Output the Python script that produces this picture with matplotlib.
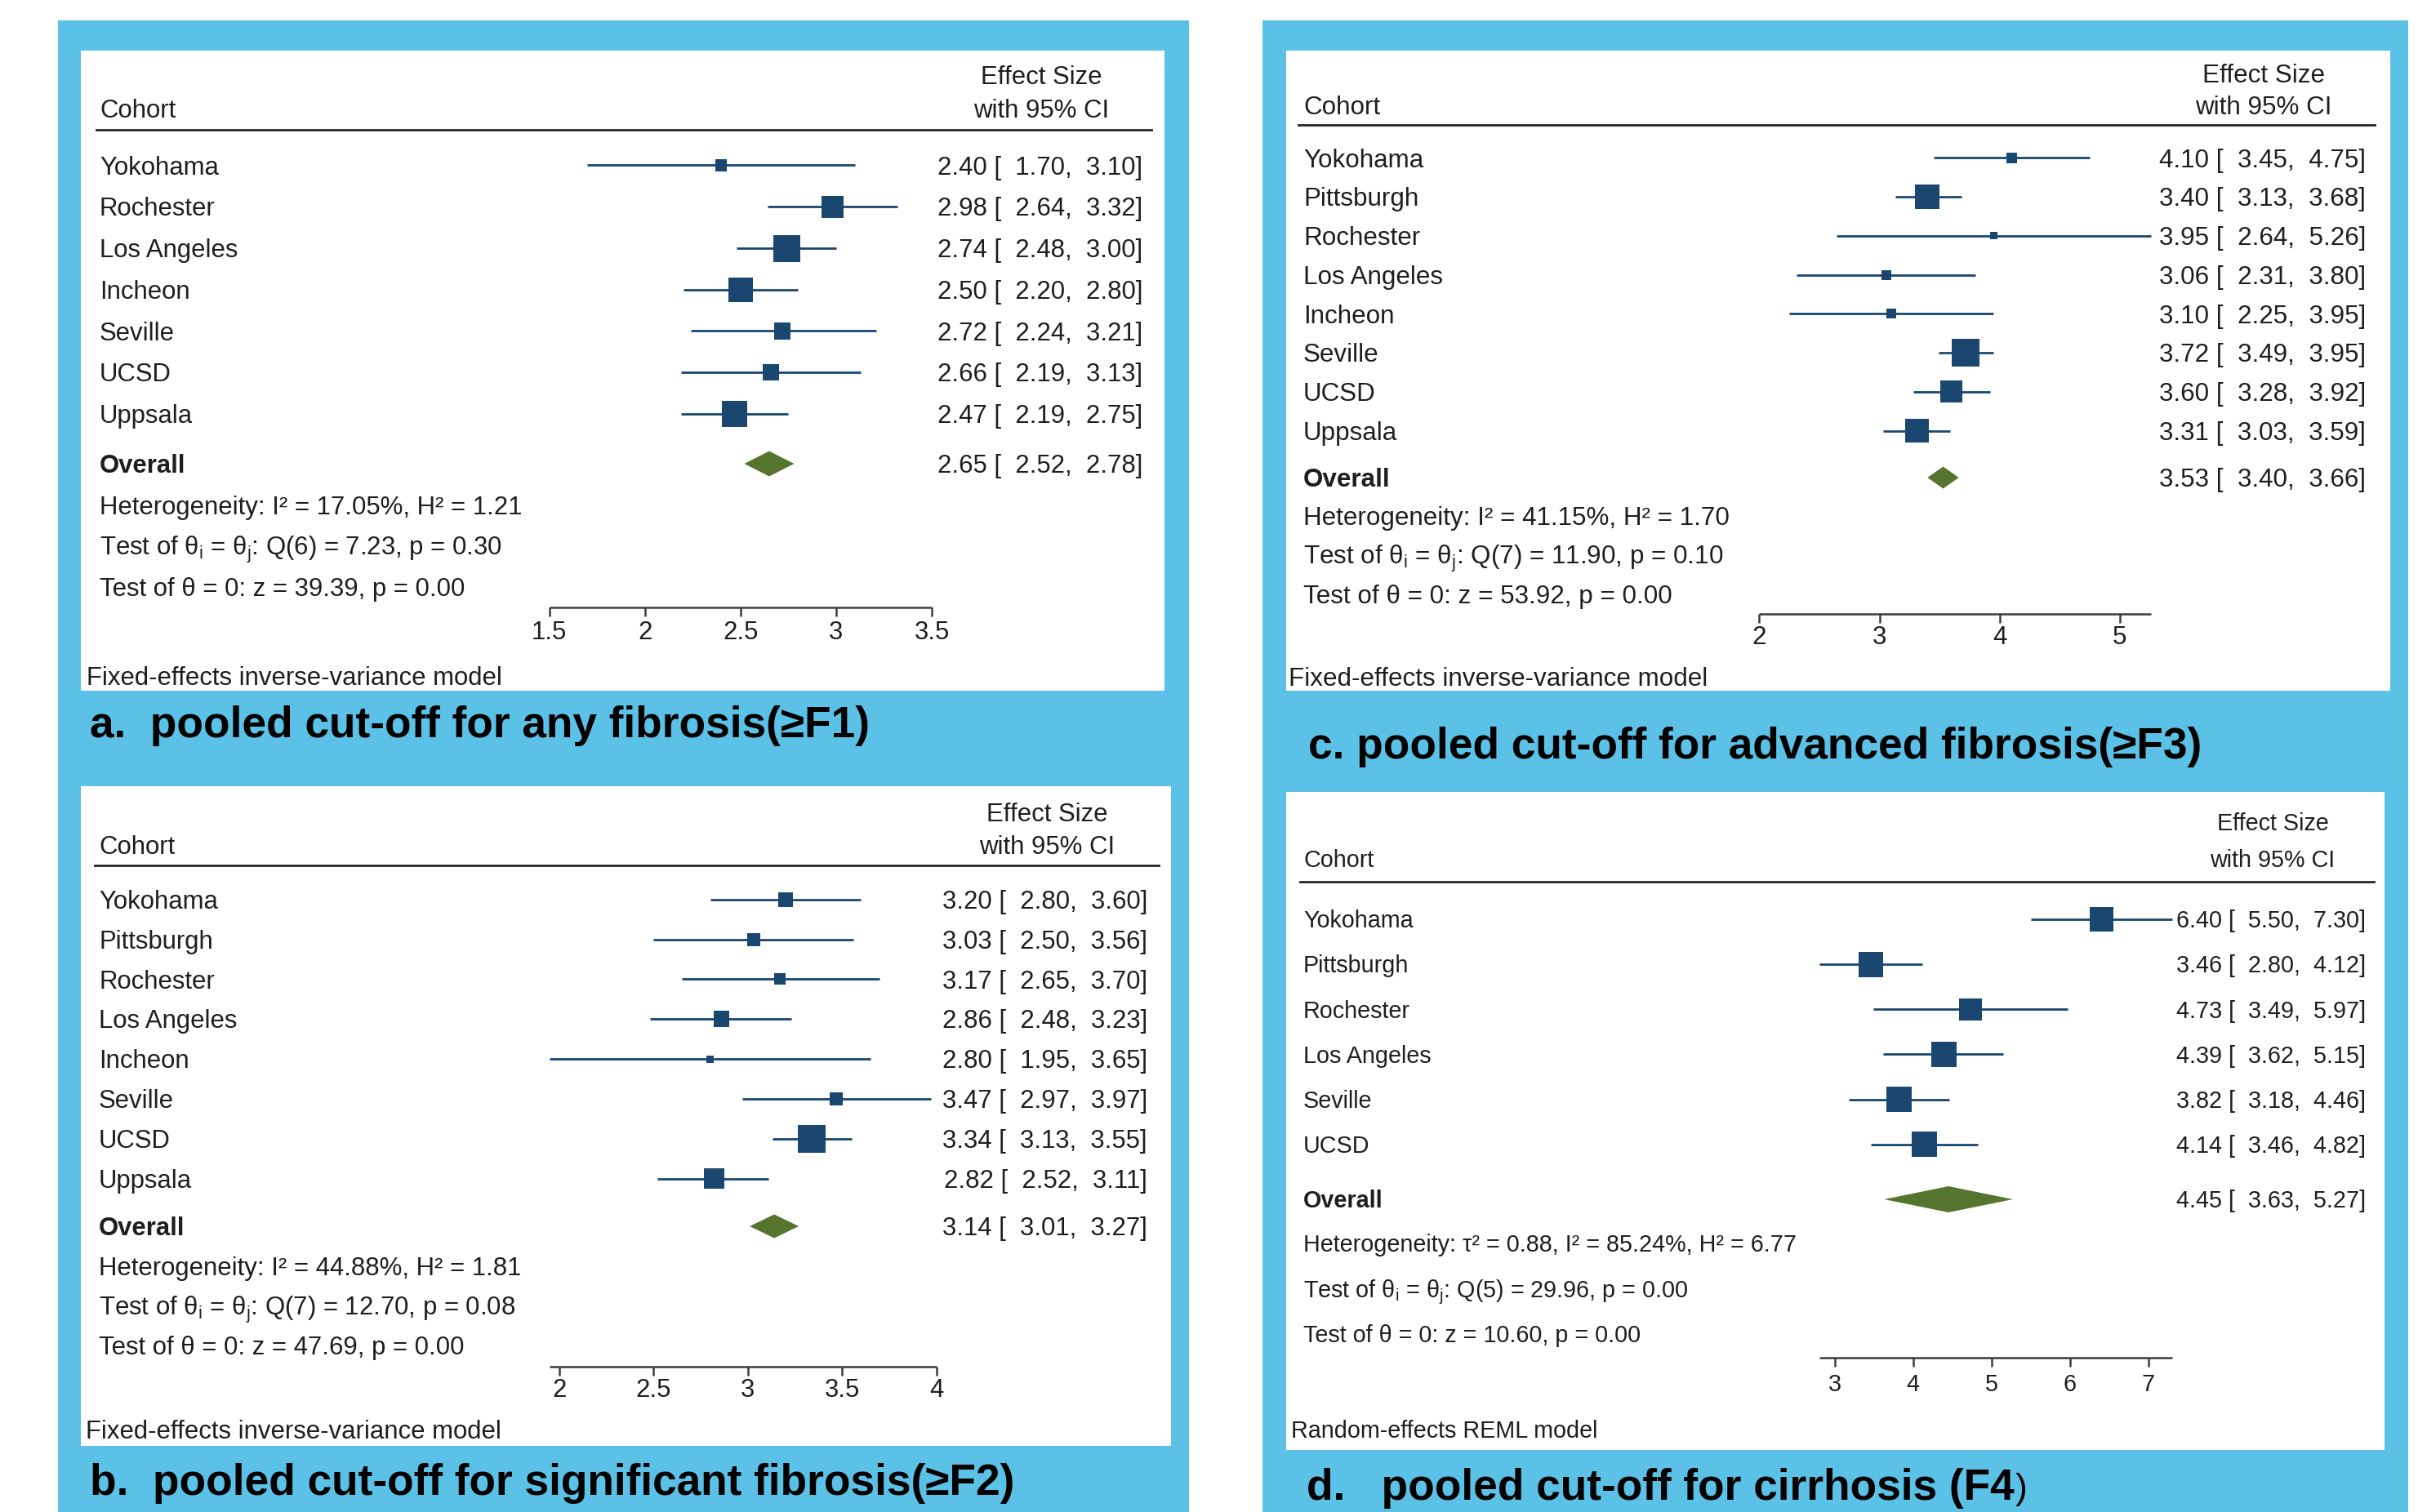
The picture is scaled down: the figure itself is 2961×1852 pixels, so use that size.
import matplotlib.pyplot as plt
from matplotlib.patches import Rectangle
from matplotlib.lines import Line2D
import numpy as np

plt.rcParams["font.family"] = ["Liberation Sans", "DejaVu Sans"]
plt.rcParams["mathtext.fontset"] = "custom"
plt.rcParams["mathtext.rm"] = "Liberation Sans"
plt.rcParams["mathtext.it"] = "Liberation Sans:italic"

W, H = 2961, 1852
NAVY = "#1A476F"
GREEN = "#55752F"
SKY = "#5BC1E7"
INK = "#1E1E1E"

# ---- data ----
# a. any fibrosis (>=F1)
a_cohort = ["Yokohama", "Rochester", "Los Angeles", "Incheon", "Seville", "UCSD", "Uppsala"]
a_est = [2.40, 2.98, 2.74, 2.50, 2.72, 2.66, 2.47]
a_lo = [1.70, 2.64, 2.48, 2.20, 2.24, 2.19, 2.19]
a_hi = [3.10, 3.32, 3.00, 2.80, 3.21, 3.13, 2.75]
a_wt = [4.2, 15.6, 23.3, 19.3, 8.6, 8.6, 20.6]
a_all = (2.65, 2.52, 2.78)
a_ticks = [1.5, 2, 2.5, 3, 3.5]
a_stats = ["Heterogeneity: I² = 17.05%, H² = 1.21",
           r"Test of θ$_{\mathrm{i}}$ = θ$_{\mathrm{j}}$: Q(6) = 7.23, p = 0.30",
           "Test of θ = 0: z = 39.39, p = 0.00"]

# b. significant fibrosis (>=F2)
b_cohort = ["Yokohama", "Pittsburgh", "Rochester", "Los Angeles", "Incheon", "Seville", "UCSD", "Uppsala"]
b_est = [3.20, 3.03, 3.17, 2.86, 2.80, 3.47, 3.34, 2.82]
b_lo = [2.80, 2.50, 2.65, 2.48, 1.95, 2.97, 3.13, 2.52]
b_hi = [3.60, 3.56, 3.70, 3.23, 3.65, 3.97, 3.55, 3.11]
b_wt = [9.8, 7.8, 6.0, 12.1, 2.5, 7.8, 35.1, 19.0]
b_all = (3.14, 3.01, 3.27)
b_ticks = [2, 2.5, 3, 3.5, 4]
b_stats = ["Heterogeneity: I² = 44.88%, H² = 1.81",
           r"Test of θ$_{\mathrm{i}}$ = θ$_{\mathrm{j}}$: Q(7) = 12.70, p = 0.08",
           "Test of θ = 0: z = 47.69, p = 0.00"]

# c. advanced fibrosis (>=F3)
c_cohort = ["Yokohama", "Pittsburgh", "Rochester", "Los Angeles", "Incheon", "Seville", "UCSD", "Uppsala"]
c_est = [4.10, 3.40, 3.95, 3.06, 3.10, 3.72, 3.60, 3.31]
c_lo = [3.45, 3.13, 2.64, 2.31, 2.25, 3.49, 3.28, 3.03]
c_hi = [4.75, 3.68, 5.26, 3.80, 3.95, 3.95, 3.92, 3.59]
c_wt = [4.1, 21.6, 1.9, 3.5, 3.5, 27.8, 17.5, 20.2]
c_all = (3.53, 3.40, 3.66)
c_ticks = [2, 3, 4, 5]
c_stats = ["Heterogeneity: I² = 41.15%, H² = 1.70",
           r"Test of θ$_{\mathrm{i}}$ = θ$_{\mathrm{j}}$: Q(7) = 11.90, p = 0.10",
           "Test of θ = 0: z = 53.92, p = 0.00"]

# d. cirrhosis (F4)
d_cohort = ["Yokohama", "Pittsburgh", "Rochester", "Los Angeles", "Seville", "UCSD"]
d_est = [6.40, 3.46, 4.73, 4.39, 3.82, 4.14]
d_lo = [5.50, 2.80, 3.49, 3.62, 3.18, 3.46]
d_hi = [7.30, 4.12, 5.97, 5.15, 4.46, 4.82]
d_wt = [16.1, 17.7, 13.7, 17.1, 17.8, 17.6]
d_all = (4.45, 3.63, 5.27)
d_ticks = [3, 4, 5, 6, 7]
d_stats = ["Heterogeneity: τ² = 0.88, I² = 85.24%, H² = 6.77",
           r"Test of θ$_{\mathrm{i}}$ = θ$_{\mathrm{j}}$: Q(5) = 29.96, p = 0.00",
           "Test of θ = 0: z = 10.60, p = 0.00"]

fig = plt.figure(figsize=(W / 100, H / 100), dpi=100)


def fx(px):
    return px / W


def fy(py):
    return 1 - py / H


def rect(x0, y0, x1, y1, color):
    fig.add_artist(Rectangle((fx(x0), fy(y1)), fx(x1) - fx(x0), fy(y0) - fy(y1),
                             transform=fig.transFigure, color=color, lw=0, zorder=0))


def txt(x, y, s, fs, **kw):
    # y is the visual centre of the cap height, in pixels
    base = y + 0.358 * fs * 100 / 72
    return fig.text(fx(x), fy(base), s, fontsize=fs, va="baseline", color=kw.pop("color", INK), **kw)


# sky blue frames
rect(71, 25, 1456, H, SKY)
rect(1546, 25, 2949, H, SKY)


def forest(box, p0, unit, lay, cohort, est, lo, hi, wt, overall, ticks, stats, model, fs, sq_max, dia_h):
    x0, y0, x1, y1 = box
    rect(x0, y0, x1, y1, "white")
    est, lo, hi, wt = map(np.asarray, (est, lo, hi, wt))

    ax = fig.add_axes([fx(x0), fy(y1), fx(x1) - fx(x0), fy(y0) - fy(y1)])
    ax.set_xlim(ticks[0] + (x0 - p0) / unit, ticks[0] + (x1 - p0) / unit)
    ax.set_ylim(y1, y0)
    ax.axis("off")

    cx = lay["cx"]
    txt(cx, lay["h2"], "Cohort", fs)
    txt(lay["hx"], lay["h1"], "Effect Size", fs, ha="center")
    txt(lay["hx"], lay["h2"], "with 95% CI", fs, ha="center")
    fig.add_artist(Line2D([fx(lay["lx"][0]), fx(lay["lx"][1])], [fy(lay["hl"])] * 2,
                          transform=fig.transFigure, color="#262626", lw=2.0))

    rows = lay["r0"] + np.arange(len(cohort)) * lay["step"]
    ax.hlines(rows, lo, hi, color=NAVY, lw=2.0, zorder=2)
    side = sq_max * np.sqrt(wt / wt.max()) * 0.72
    ax.scatter(est, rows, s=side ** 2, marker="s", color=NAVY, linewidths=0, zorder=3)

    for name, r, e, l, h in zip(cohort, rows, est, lo, hi):
        txt(cx, r, name, fs)
        txt(lay["vx"], r, f"{e:.2f} [  {l:.2f},  {h:.2f}]", fs, ha="right")

    oe, ol, oh = overall
    ry = lay["ov"]
    ax.fill([ol, oe, oh, oe], [ry, ry - dia_h, ry, ry + dia_h], color=GREEN, lw=0, zorder=3)
    txt(cx, ry, "Overall", fs, fontweight="bold")
    txt(lay["vx"], ry, f"{oe:.2f} [  {ol:.2f},  {oh:.2f}]", fs, ha="right")

    for s, y in zip(stats, lay["st"]):
        txt(cx, y, s, fs)

    ya = lay["ax"]
    ax.hlines(ya, min(ticks[0], lo.min()), max(ticks[-1], hi.max()), color="#3C3C3C", lw=1.8)
    ax.vlines(ticks, ya, ya + 11, color="#3C3C3C", lw=1.8)
    tb = lay["tl"] + 0.358 * fs * 100 / 72
    for t in ticks:
        ax.text(t, tb, f"{t:g}", fontsize=fs, ha="center", va="baseline", color=INK)

    txt(lay["fx"], lay["ft"], model, fs)


forest((99, 62, 1426, 846), 672.5, 234.3,
       dict(cx=122, hx=1275, vx=1399, lx=(118, 1410), h1=92, h2=133, hl=159,
            r0=202.5, step=50.75, ov=568, st=(619, 669, 719), ax=744, tl=772, fx=106, ft=828),
       a_cohort, a_est, a_lo, a_hi, a_wt, a_all, a_ticks, a_stats,
       "Fixed-effects inverse-variance model", 22.4, 33, 15.5)

forest((99, 963, 1434, 1771), 685, 230.8,
       dict(cx=121, hx=1282, vx=1405, lx=(116, 1419), h1=995, h2=1035, hl=1060,
            r0=1101.7, step=48.86, ov=1502, st=(1551, 1600, 1648), ax=1674, tl=1700, fx=105, ft=1751),
       b_cohort, b_est, b_lo, b_hi, b_wt, b_all, b_ticks, b_stats,
       "Fixed-effects inverse-variance model", 22.4, 34, 14.5)

forest((1575, 62, 2927, 846), 2154.4, 147.1,
       dict(cx=1596, hx=2772, vx=2897, lx=(1590, 2908), h1=90, h2=129, hl=153,
            r0=193.4, step=47.73, ov=585, st=(632, 680, 728), ax=752, tl=778, fx=1578, ft=829),
       c_cohort, c_est, c_lo, c_hi, c_wt, c_all, c_ticks, c_stats,
       "Fixed-effects inverse-variance model", 22.6, 34, 13.5)

forest((1575, 970, 2920, 1776), 2246.8, 96.05,
       dict(cx=1596, hx=2783, vx=2897, lx=(1592, 2907), h1=1007, h2=1052, hl=1080,
            r0=1126, step=55.16, ov=1469, st=(1523, 1579, 1634), ax=1663, tl=1694, fx=1581, ft=1751),
       d_cohort, d_est, d_lo, d_hi, d_wt, d_all, d_ticks, d_stats,
       "Random-effects REML model", 20.7, 31, 16)

# panel captions
cap = dict(fontweight="bold", color="black")
txt(110, 884, "a.  pooled cut-off for any fibrosis(≥F1)", 38.3, **cap)
txt(110, 1812, "b.  pooled cut-off for significant fibrosis(≥F2)", 38.3, **cap)
txt(1602, 910, "c. pooled cut-off for advanced fibrosis(≥F3)", 38.3, **cap)
d_cap = txt(1600, 1818, "d.   pooled cut-off for cirrhosis (F4", 38.3, **cap)
# the closing bracket of caption d is set in a lighter, smaller type
fig.canvas.draw()
bb = d_cap.get_window_extent()
txt(bb.x1 + 1, 1820, ")", 32, color="black")

fig.savefig("out.png", dpi=100)
